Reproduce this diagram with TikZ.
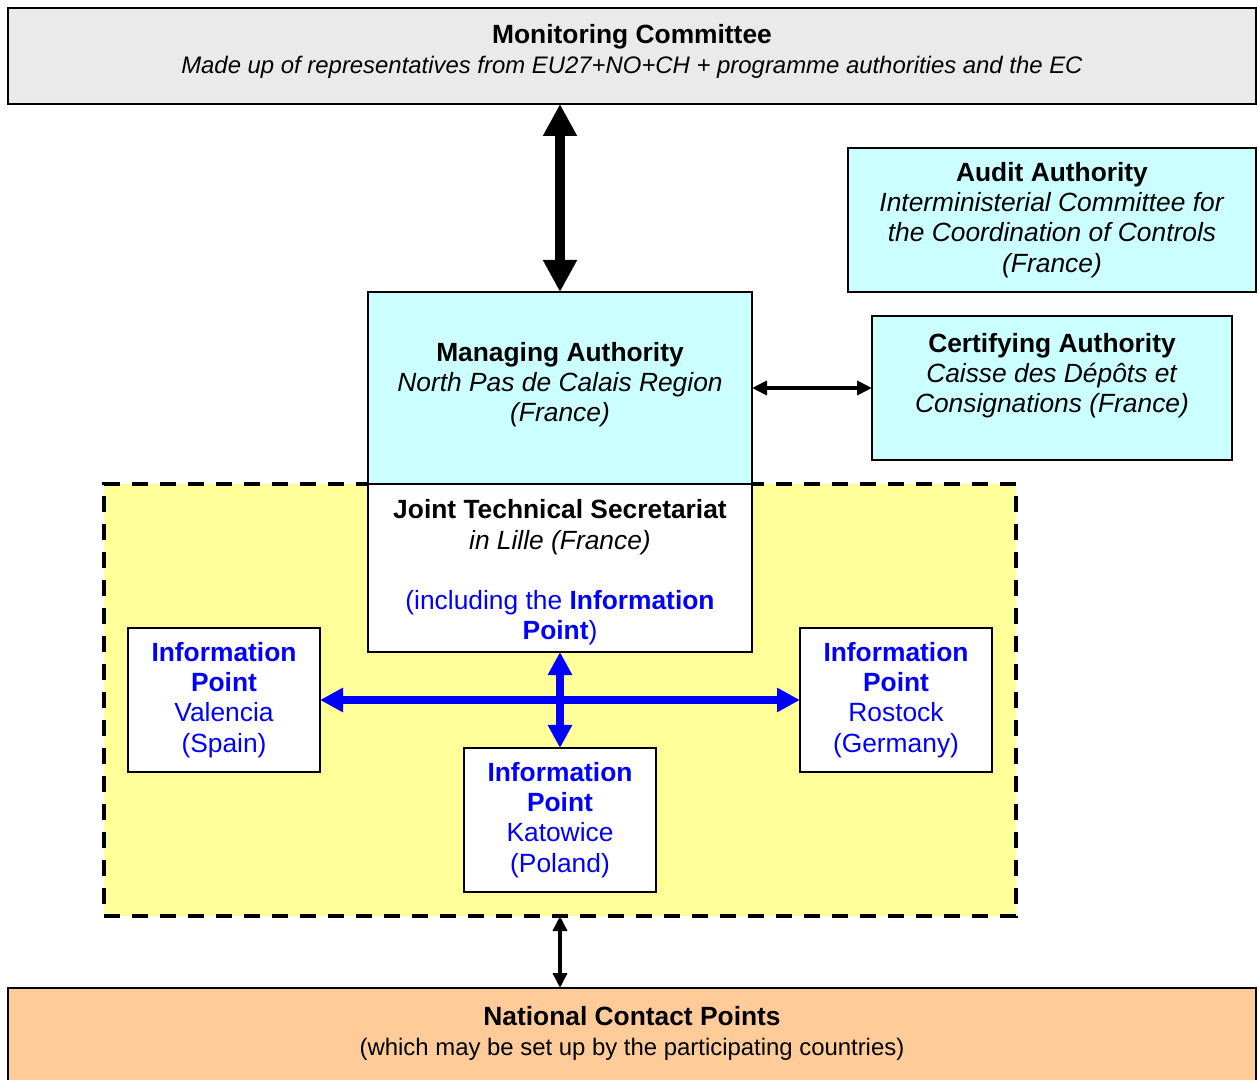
\documentclass[tikz,border=0pt]{standalone}
\usepackage{fontspec}
\setmainfont{Liberation Sans}
\usetikzlibrary{arrows.meta}
\definecolor{mcgray}{RGB}{234,234,234}
\definecolor{authcyan}{RGB}{204,255,255}
\definecolor{zoneyellow}{RGB}{255,255,153}
\definecolor{ncporange}{RGB}{255,204,153}
\definecolor{ipblue}{RGB}{0,0,255}
\newcommand{\ipname}[2]{\textbf{Information}\\\textbf{Point}\\#1\\(#2)}
\newcommand{\subline}{\fontsize{13.6}{16.4}\selectfont}

\begin{document}
\begin{tikzpicture}[
  box/.style = {draw, line width = 0.04cm, inner sep = 0pt, outer sep = 0pt, align = center,
    font = \fontsize{15}{17.2}\selectfont},
  ipbox/.style = {box, fill = white, text = ipblue, minimum width = 3.84cm, minimum height = 2.88cm},
  bigarrow/.style = {line width = 0.2cm, {Triangle[width = 0.64cm, length = 0.64cm]}-{Triangle[width = 0.64cm, length = 0.64cm]}},
  smallarrow/.style = {line width = 0.09cm, {Triangle[width = 0.28cm, length = 0.3cm]}-{Triangle[width = 0.28cm, length = 0.3cm]}},
  bluearrow/.style = {ipblue, line width = 0.17cm, {Triangle[width = 0.46cm, length = 0.46cm]}-{Triangle[width = 0.46cm, length = 0.46cm]}}
]
\useasboundingbox (0, 0) rectangle (25.16, -21.6);

\node[box, fill = zoneyellow, dash pattern = on 0.32cm off 0.24cm, line width = 0.08cm,
  minimum width = 18.24cm, minimum height = 8.64cm] (zone) at (11.2, -14) {};

\node[box, fill = mcgray, minimum width = 24.96cm, minimum height = 1.92cm] (mc) at (12.64, -1.12)
  {\textbf{Monitoring Committee}\\{\subline\textit{Made up of representatives from EU27+NO+CH + programme authorities and the EC}}\\[-0.32cm]};
\node[box, fill = authcyan, minimum width = 8.16cm, minimum height = 2.88cm] (aa) at (21.04, -4.4)
  {\textbf{Audit Authority}\\\textit{Interministerial Committee for}\\\textit{the Coordination of Controls}\\\textit{(France)}};
\node[box, fill = authcyan, minimum width = 7.68cm, minimum height = 3.84cm] (ma) at (11.2, -7.76)
  {\textbf{Managing Authority}\\\textit{North Pas de Calais Region}\\\textit{(France)}\\[-0.37cm]};
\node[box, fill = authcyan, minimum width = 7.2cm, minimum height = 2.88cm] (ca) at (21.04, -7.76)
  {\textbf{Certifying Authority}\\\textit{Caisse des Dépôts et}\\\textit{Consignations (France)}\\~};
\node[box, fill = white, minimum width = 7.68cm, minimum height = 3.36cm] (jts) at (11.2, -11.36)
  {~\\[-0.04cm]\textbf{Joint Technical Secretariat}\\\textit{in Lille (France)}\\~\\
   \textcolor{ipblue}{(including the \textbf{Information}}\\\textcolor{ipblue}{\textbf{Point})}};
\node[ipbox] (ipv) at (4.48, -14) {\ipname{Valencia}{Spain}};
\node[ipbox] (ipr) at (17.92, -14) {\ipname{Rostock}{Germany}};
\node[ipbox] (ipk) at (11.2, -16.4) {\ipname{Katowice}{Poland}};
\node[box, fill = ncporange, minimum width = 24.96cm, minimum height = 1.92cm] (ncp) at (12.64, -20.72)
  {\textbf{National Contact Points}\\{\subline(which may be set up by the participating countries)}\\[-0.4cm]};

\draw[bigarrow] (ma.north |- mc.south) -- (ma.north);
\draw[smallarrow] (ma.east) -- (ca.west);
\draw[bluearrow] (ipv.east) -- (ipr.west);
\draw[bluearrow] (jts.south) -- (ipk.north);
\draw[smallarrow] (zone.south) -- (zone.south |- ncp.north);
\end{tikzpicture}
\end{document}
